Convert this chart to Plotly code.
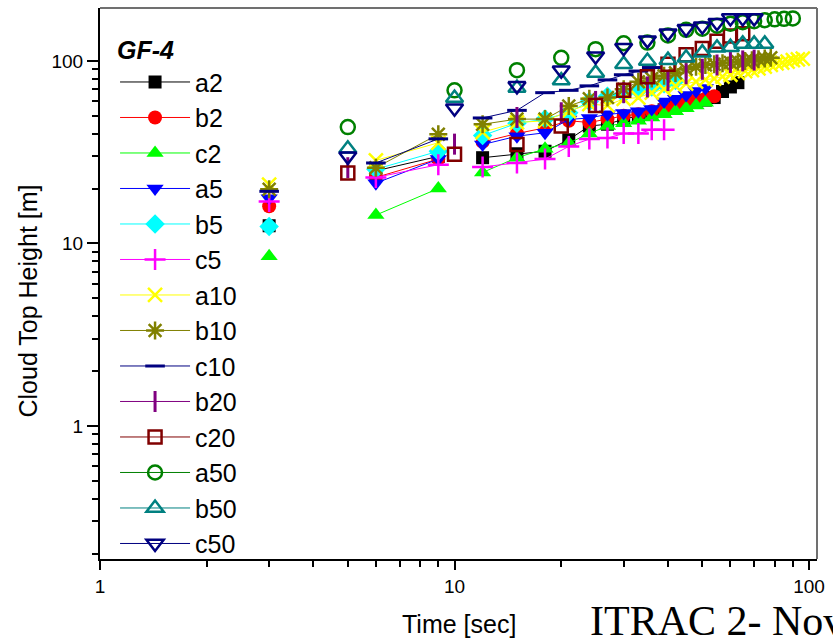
import plotly.graph_objects as go

# ---------------- data ----------------
TIME_3S = [3, 6, 9, 12, 15, 18, 21, 24, 27, 30, 33, 36, 39, 42, 45, 48, 51, 54,
           57, 60, 63, 66, 69, 72, 75, 78, 81, 84, 87, 90, 93, 96]
TIME_5S = [5, 10, 15, 20, 25, 30, 35, 40, 45, 50, 55, 60, 65, 70, 75, 80, 85, 90]

series_names = ["a2", "b2", "c2", "a5", "b5", "c5", "a10", "b10", "c10",
                "b20", "c20", "a50", "b50", "c50"]

a2 = [12.5, 25, 30, 29.5, 31, 32, 37, 44, 45, 48, 50, 52, 54, 56, 58, 60, 61, 63, 68, 72, 76]
b2 = [16, 23, 29, 36, 40, 43, 47, 46, 48, 50, 51, 53, 55, 57, 59, 61, 62, 64]
c2 = [8.5, 14.3, 20, 24.5, 29.5, 33, 35.5, 40, 44, 45.5, 47, 49, 51, 53, 55, 57, 59]
a5 = [17.7, 21.4, 29, 34.8, 38.7, 40.4, 47.8, 48.7, 51, 51.8, 53, 54.5, 60, 62, 65, 68.5, 71]
b5 = [12.4, 25.5, 32, 39, 45.5, 48, 52, 60, 64, 66, 69, 72, 75, 78]
c5 = [17, 23, 27, 26.2, 27.6, 29, 34, 37.3, 37.8, 40, 40, 42, 42]
a10 = [21, 28.5, 35.6, 40.7, 46, 47, 53, 58, 57, 62, 63, 67, 70, 73, 75, 77, 79, 80,
       82, 84, 86, 88, 89, 91, 93, 95, 97, 98, 99, 101, 102, 103]
b10 = [19.8, 26, 39.6, 45, 48, 48, 56.6, 62, 63, 70, 77, 80, 83, 86, 90, 93, 95, 96,
       97, 98, 99, 100, 101, 102, 103, 104]
c10 = [19.3, 27.6, 37.4, 48.7, 53.6, 67, 69, 73, 78.7, 84, 88, 92]
b20 = [26, 35, 49, 52, 60, 67, 72, 78, 85, 90, 95, 98, 100, 101]
c20 = [24.3, 30.8, 34.8, 44, 57, 69, 82, 96, 108, 117, 128, 137, 141]
a50 = [43.4, 69, 89, 104, 116, 125, 126, 138, 148, 150, 156, 160, 163, 165, 167, 169, 170, 171]
b50 = [33, 62.6, 71, 78, 86, 96, 100, 101, 104, 111, 118, 119, 124, 124, 124]
c50 = [30, 55, 73, 89, 106, 118, 130, 142, 150, 155, 162, 172, 172, 172]

values = [a2, b2, c2, a5, b5, c5, a10, b10, c10, b20, c20, a50, b50, c50]
time_base = ["3s"] * 9 + ["5s"] * 5

# ---------------- styles ----------------
colors = ["#000000", "#FF0000", "#00FF00", "#0000FF", "#00FFFF", "#FF00FF",
          "#FFFF00", "#808000", "#000080", "#800080", "#800000", "#008000",
          "#008080", "#000080"]
symbols = ["square", "circle", "triangle-up", "triangle-down", "diamond",
           "cross-thin", "x-thin", "asterisk", "line-ew", "line-ns",
           "square-open", "circle-open", "triangle-up-open", "triangle-down-open"]
sizes = [13, 14, 15, 15, 15, 15, 14, 15, 14, 15, 13, 14, 15, 15]
mlw = [0, 0, 0, 0, 0, 2.5, 2.5, 2.5, 3, 3, 2.5, 2.5, 2.5, 2.5]


def with_breaks(ts, vs, base):
    """3-s series: no connecting line 3->6 and 9->12; 5-s series: markers only."""
    xs, ys = [], []
    for i, (t, v) in enumerate(zip(ts, vs)):
        if i > 0:
            if base == "5s" or t in (6, 12):
                xs.append(None)
                ys.append(None)
        xs.append(t)
        ys.append(v)
    return xs, ys


fig = go.Figure()
for name, vals, base, col, sym, sz, lw in zip(series_names, values, time_base,
                                               colors, symbols, sizes, mlw):
    ts = (TIME_3S if base == "3s" else TIME_5S)[:len(vals)]
    xs, ys = with_breaks(ts, vals, base)
    fig.add_trace(go.Scatter(
        x=xs, y=ys, name=name, mode="lines+markers", connectgaps=False,
        line=dict(color=col, width=1),
        marker=dict(symbol=sym, size=sz, color=col,
                    line=dict(color=col, width=lw)),
    ))

FONT = "Liberation Sans, Arial, sans-serif"
PLOT_H = 551.0
PLOT_W = 722.0

fig.update_layout(
    width=833, height=642,
    margin=dict(l=100, r=11, t=8, b=83),
    paper_bgcolor="white", plot_bgcolor="white",
    font=dict(family=FONT, color="black", size=19),
    showlegend=True,
    legend=dict(
        x=0.021, y=0.966, xanchor="left", yanchor="top",
        bgcolor="rgba(0,0,0,0)", borderwidth=0,
        font=dict(family=FONT, size=25, color="black"),
        title=dict(text="<b><i>GF-4</i></b>", font=dict(family=FONT, size=25)),
        itemwidth=70,
        tracegroupgap=0,
    ),
    xaxis=dict(
        type="log", range=[0, 2.0224],
        tickvals=[1, 10, 100], ticktext=["1", "10", "100"],
        ticks="outside", ticklen=9, tickwidth=2, tickcolor="black",
        minor=dict(ticks="outside", ticklen=6, tickwidth=2, tickcolor="black",
                   dtick="D1", showgrid=False),
        showline=True, linecolor="black", linewidth=2,
        showgrid=False, zeroline=False,
        tickfont=dict(size=19),
    ),
    yaxis=dict(
        type="log", range=[-0.729, 2.29],
        tickvals=[1, 10, 100], ticktext=["1", "10", "100"],
        ticks="outside", ticklen=11, tickwidth=2, tickcolor="black",
        minor=dict(ticks="outside", ticklen=6, tickwidth=2, tickcolor="black",
                   dtick="D1", showgrid=False),
        showline=True, linecolor="black", linewidth=2,
        showgrid=False, zeroline=False,
        tickfont=dict(size=19),
    ),
    shapes=[
        dict(type="line", xref="paper", yref="paper", x0=0, x1=1, y0=1, y1=1,
             line=dict(color="#707070", width=2)),
        dict(type="line", xref="paper", yref="paper", x0=1, x1=1, y0=0, y1=1,
             line=dict(color="#707070", width=2)),
    ],
    annotations=[
        dict(text="Cloud Top Height [m]", xref="paper", yref="paper",
             x=(27 - 100) / PLOT_W, y=(559 - 301) / PLOT_H, textangle=-90,
             xanchor="center", yanchor="middle", showarrow=False,
             font=dict(family=FONT, size=25, color="black")),
        dict(text="Time [sec]", xref="paper", yref="paper",
             x=0.5, y=-(624 - 559) / PLOT_H,
             xanchor="center", yanchor="middle", showarrow=False,
             font=dict(family=FONT, size=25, color="black")),
        dict(text="ITRAC 2- Nov", xref="paper", yref="paper",
             x=(591 - 100) / PLOT_W, y=-(646 - 559) / PLOT_H,
             xanchor="left", yanchor="bottom", showarrow=False,
             font=dict(family="Liberation Serif, Times New Roman, serif",
                       size=42, color="black")),
    ],
)

fig.write_html("out.html")
